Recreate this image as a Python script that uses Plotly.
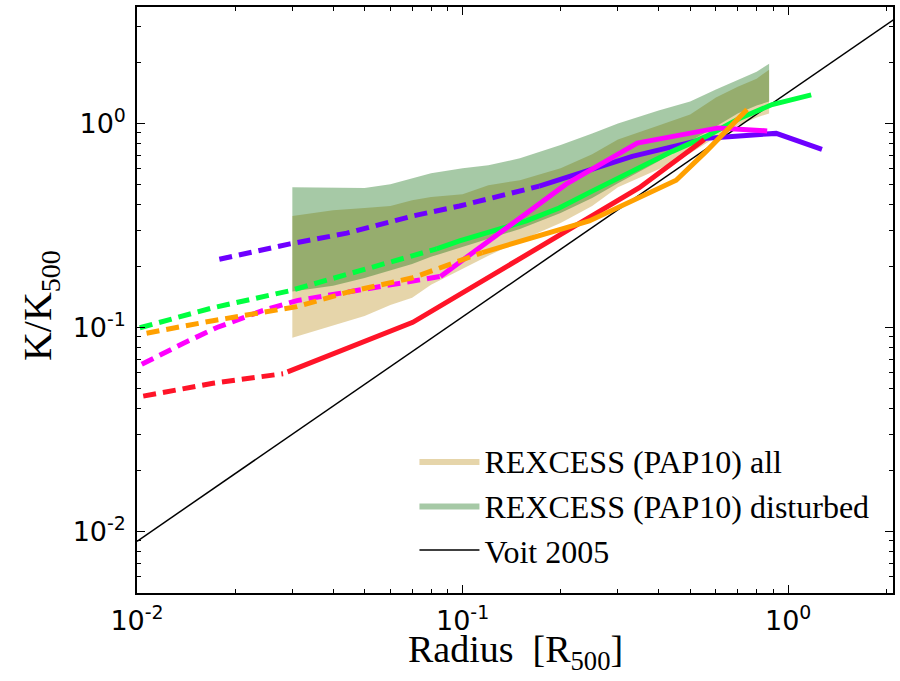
import plotly.graph_objects as go

# ---- REXCESS (PAP10) bands ----
band_x = [0.03, 0.04, 0.05, 0.06, 0.07, 0.08, 0.10, 0.12, 0.15, 0.20, 0.25, 0.30, 0.40, 0.50, 0.60, 0.70, 0.80, 0.874]
all_lo = [0.089, 0.102, 0.114, 0.129, 0.140, 0.162, 0.194, 0.225, 0.266, 0.325, 0.394, 0.487, 0.597, 0.714, 0.855, 0.978, 1.07, 1.12]
all_hi = [0.352, 0.376, 0.385, 0.394, 0.421, 0.436, 0.450, 0.498, 0.527, 0.603, 0.706, 0.835, 0.978, 1.106, 1.339, 1.515, 1.658, 1.834]
dist_lo = [0.150, 0.160, 0.175, 0.190, 0.205, 0.222, 0.248, 0.272, 0.304, 0.364, 0.431, 0.510, 0.653, 0.817, 0.967, 1.119, 1.224, 1.28]
dist_hi = [0.487, 0.484, 0.483, 0.504, 0.539, 0.570, 0.603, 0.624, 0.675, 0.785, 0.894, 1.00, 1.157, 1.28, 1.465, 1.639, 1.793, 1.962]

# ---- Voit 2005 ----
voit_x = [0.01, 2.2]
voit_y = [0.00896, 3.38]

# ---- simulated profiles: (inner dashed part, outer solid part) ----
purple_in_x = [0.0179, 0.0295, 0.0441, 0.0703, 0.0979, 0.172]
purple_in_y = [0.216, 0.257, 0.290, 0.352, 0.394, 0.493]
purple_out_x = [0.172, 0.250, 0.332, 0.487, 0.560, 0.673, 0.919, 1.27]
purple_out_y = [0.493, 0.597, 0.690, 0.799, 0.845, 0.864, 0.894, 0.747]

green_in_x = [0.0102, 0.0171, 0.0295, 0.0483, 0.0832]
green_in_y = [0.0997, 0.125, 0.1515, 0.190, 0.243]
green_out_x = [0.0832, 0.0979, 0.157, 0.198, 0.250, 0.349, 0.441, 0.560, 0.708, 0.893, 1.177]
green_out_y = [0.243, 0.266, 0.333, 0.385, 0.466, 0.603, 0.730, 0.864, 1.058, 1.238, 1.380]

magenta_in_x = [0.01034, 0.0120, 0.01384, 0.0176, 0.0243, 0.0310, 0.0473, 0.0610, 0.0855]
magenta_in_y = [0.066, 0.0747, 0.0835, 0.100, 0.121, 0.1355, 0.1515, 0.164, 0.178]
magenta_out_x = [0.0855, 0.208, 0.344, 0.610, 0.862]
magenta_out_y = [0.178, 0.504, 0.801, 0.951, 0.919]

orange_in_x = [0.0107, 0.0171, 0.0310, 0.0441, 0.0703, 0.0932, 0.115]
orange_in_y = [0.0938, 0.108, 0.1266, 0.1486, 0.1754, 0.2075, 0.233]
orange_out_x = [0.115, 0.245, 0.453, 0.560, 0.748]
orange_out_y = [0.233, 0.333, 0.527, 0.730, 1.170]

red_in_x = [0.01045, 0.0171, 0.0281]
red_in_y = [0.0461, 0.0533, 0.0594]
red_out_x = [0.029, 0.0703, 0.349, 0.5525]
red_out_y = [0.0606, 0.106, 0.484, 0.835]

profiles = [
    ("#6e00ff", purple_in_x, purple_in_y, purple_out_x, purple_out_y),
    ("#00ff40", green_in_x, green_in_y, green_out_x, green_out_y),
    ("#ff00ff", magenta_in_x, magenta_in_y, magenta_out_x, magenta_out_y),
    ("#ff1428", red_in_x, red_in_y, red_out_x, red_out_y),
    ("#ffa000", orange_in_x, orange_in_y, orange_out_x, orange_out_y),
]

tick_vals = [0.01, 0.1, 1.0]
tick_text = ["10<sup>-2</sup>", "10<sup>-1</sup>", "10<sup>0</sup>"]

fig = go.Figure()

fig.add_trace(go.Scatter(
    x=band_x + band_x[::-1], y=all_hi + all_lo[::-1],
    fill="toself", fillcolor="rgba(184,134,11,0.35)", line=dict(width=0),
    mode="lines", name="REXCESS (PAP10) all", hoverinfo="skip"))
fig.add_trace(go.Scatter(
    x=band_x + band_x[::-1], y=dist_hi + dist_lo[::-1],
    fill="toself", fillcolor="rgba(0,100,0,0.35)", line=dict(width=0),
    mode="lines", name="REXCESS (PAP10) disturbed", hoverinfo="skip"))

fig.add_trace(go.Scatter(
    x=voit_x, y=voit_y, mode="lines", line=dict(color="black", width=1.5),
    name="Voit 2005"))

for col, xi, yi, xo, yo in profiles:
    fig.add_trace(go.Scatter(x=xi, y=yi, mode="lines", showlegend=False,
                             line=dict(color=col, width=5, dash="13px,7px")))
    fig.add_trace(go.Scatter(x=xo, y=yo, mode="lines", showlegend=False,
                             line=dict(color=col, width=5)))

axis_common = dict(
    type="log", showline=True, linecolor="black", linewidth=1.5, mirror="ticks",
    ticks="inside", ticklen=8, tickwidth=1, tickcolor="black",
    showgrid=False, zeroline=False,
    tickvals=tick_vals, ticktext=tick_text,
    tickfont=dict(family="DejaVu Sans", size=27, color="black"),
    minor=dict(ticks="inside", ticklen=4, tickwidth=1, tickcolor="black",
               showgrid=False, dtick="D1"),
)

fig.update_xaxes(range=[-2, 0.322], ticklabelstandoff=3, **axis_common)
fig.update_yaxes(range=[-2.301, 0.5707], ticklabelstandoff=4, **axis_common)

fig.update_layout(
    width=900, height=681,
    margin=dict(l=137, r=7, t=5, b=88),
    plot_bgcolor="white", paper_bgcolor="white",
    legend=dict(x=0.367, y=0.272, xanchor="left", yanchor="top",
                bgcolor="rgba(0,0,0,0)", itemwidth=60, tracegroupgap=0,
                font=dict(family="Liberation Serif", size=32, color="black")),
    annotations=[
        dict(text="Radius  [R<sub>500</sub>]", xref="paper", yref="paper",
             x=0.5, y=-0.1445, showarrow=False, xanchor="center", yanchor="bottom",
             font=dict(family="Liberation Serif", size=38, color="black")),
        dict(text="K/K<sub>500</sub>", xref="paper", yref="paper",
             x=-0.128, y=0.49, showarrow=False, textangle=-90,
             xanchor="center", yanchor="middle",
             font=dict(family="Liberation Serif", size=40, color="black")),
    ],
)

fig.write_html("out.html")
